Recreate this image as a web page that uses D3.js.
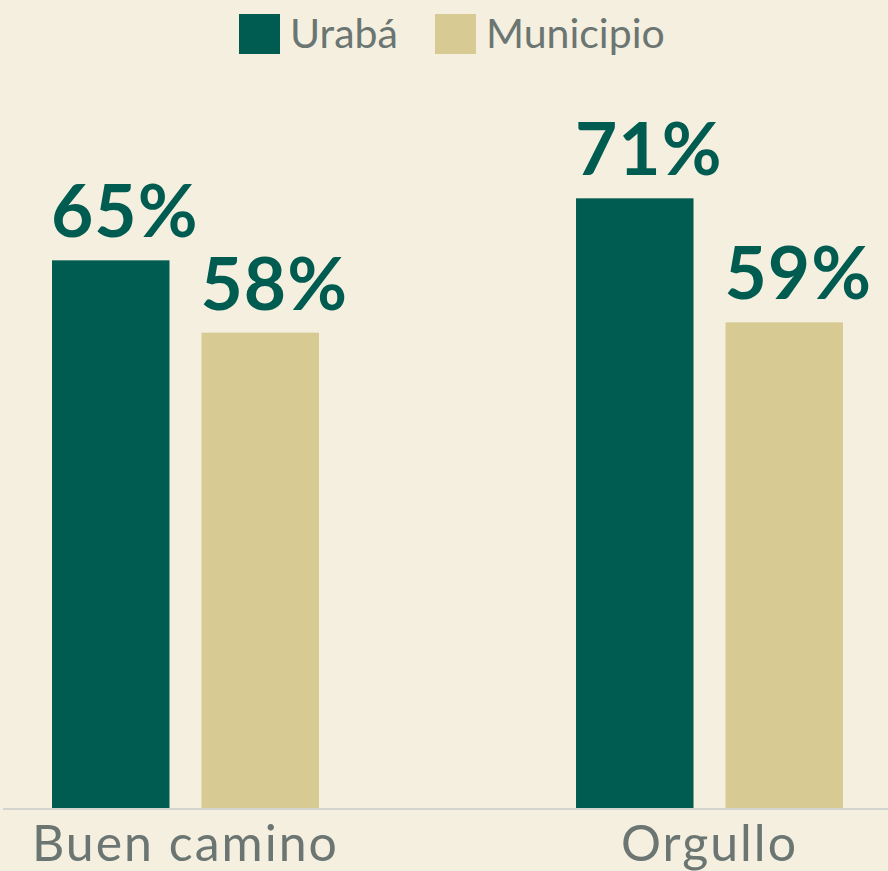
<!DOCTYPE html>
<html>
<head>
<meta charset="utf-8">
<script src="https://cdn.jsdelivr.net/npm/d3@7"></script>
<style>
  html, body { margin: 0; padding: 0; background: #f5efe0; }
  svg { display: block; }
  .legend text, .cat text { font-family: Lato, sans-serif; fill: #6b7572; }
  .val { font-family: Lato, sans-serif; font-weight: 700; fill: #005c50; }
</style>
</head>
<body>
<div id="chart"></div>
<script>
var categories = ["Buen camino", "Orgullo"];
var series = ["Urabá", "Municipio"];
var uraba = [65, 71];
var municipio = [58, 59];
var colors = ["#005c50", "#d8ca93"];

var width = 888, height = 871,
  baseY = 808;

var svg = d3.select("#chart").append("svg")
  .attr("width", width)
  .attr("height", height);

svg.append("rect")
  .attr("width", width).attr("height", height)
  .attr("fill", "#f5efe0");

var x0 = d3.scaleBand()
  .domain(categories)
  .range([52, 843])
  .paddingInner(0.4905);

var x1 = d3.scaleBand()
  .domain(series)
  .range([0, x0.bandwidth()])
  .paddingInner(0.214);

var y = d3.scaleLinear()
  .domain([12, 90])
  .range([baseY, 2]);

var rows = categories.map(function(c, i) {
  return { cat: c, values: [uraba[i], municipio[i]] };
});

var group = svg.selectAll("g.group")
  .data(rows)
  .enter().append("g")
  .attr("class", "group")
  .attr("transform", function(d) { return "translate(" + x0(d.cat) + ",0)"; });

group.selectAll("rect")
  .data(function(d) { return d.values.map(function(v, j) { return { s: series[j], v: v, j: j }; }); })
  .enter().append("rect")
  .attr("x", function(d) { return x1(d.s); })
  .attr("y", function(d) { return y(d.v); })
  .attr("width", x1.bandwidth())
  .attr("height", function(d) { return baseY - y(d.v); })
  .attr("fill", function(d) { return colors[d.j]; });

group.selectAll("text.val")
  .data(function(d) { return d.values.map(function(v, j) { return { s: series[j], v: v }; }); })
  .enter().append("text")
  .attr("class", "val")
  .attr("x", function(d) { return x1(d.s) - 1; })
  .attr("y", function(d) { return y(d.v) - 23; })
  .attr("font-size", 73)
  .attr("letter-spacing", 1)
  .text(function(d) { return d.v + "%"; });

// baseline
svg.append("line")
  .attr("x1", 3).attr("x2", width)
  .attr("y1", baseY + 1).attr("y2", baseY + 1)
  .attr("stroke", "#d3d3cf")
  .attr("stroke-width", 2);

// category labels
svg.append("g").attr("class", "cat")
  .selectAll("text")
  .data(categories)
  .enter().append("text")
  .attr("x", function(d) { return x0(d) + x0.bandwidth() / 2; })
  .attr("y", 861)
  .attr("text-anchor", "middle")
  .attr("font-size", 50)
  .attr("letter-spacing", 2)
  .text(function(d) { return d; });

// legend
var legendX = [239, 435];
var legend = svg.append("g").attr("class", "legend")
  .selectAll("g")
  .data(series)
  .enter().append("g")
  .attr("transform", function(d, i) { return "translate(" + legendX[i] + ",14)"; });

legend.append("rect")
  .attr("width", 41).attr("height", 40)
  .attr("fill", function(d, i) { return colors[i]; });

legend.append("text")
  .attr("x", 51)
  .attr("y", 34)
  .attr("font-size", 41)
  .text(function(d) { return d; });
</script>
</body>
</html>
